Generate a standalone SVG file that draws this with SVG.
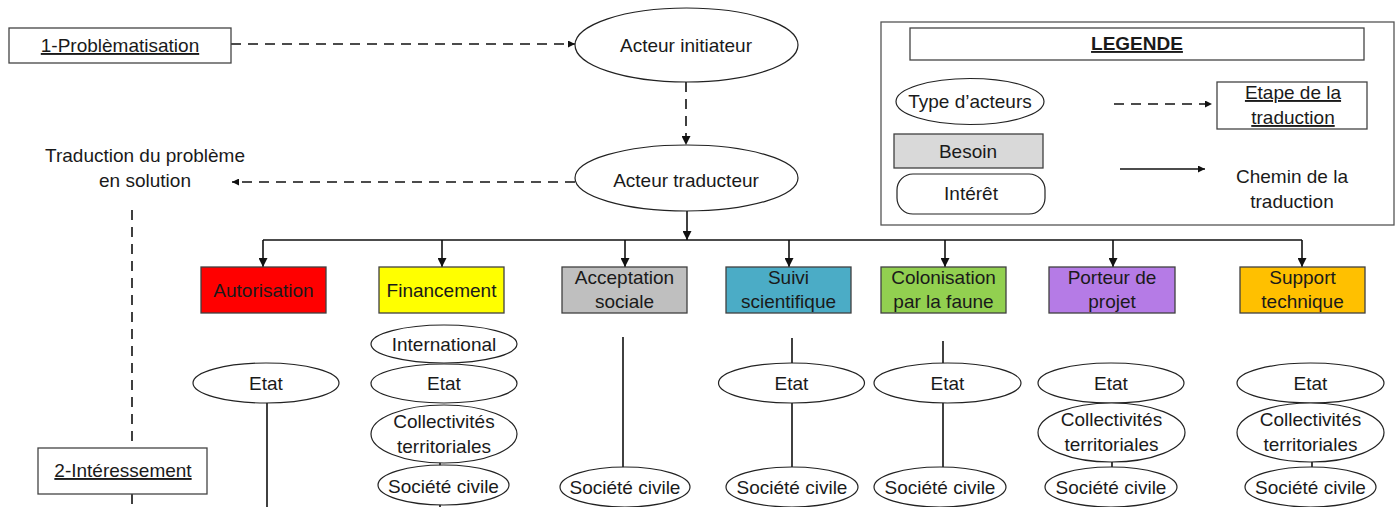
<svg xmlns="http://www.w3.org/2000/svg" width="1399" height="507" viewBox="0 0 1399 507">
<style>
text{font-family:"Liberation Sans",Arial,sans-serif;font-size:19px;fill:#1a1a1a;text-anchor:middle}
.u{text-decoration:underline}
.b{font-weight:bold}
.box{stroke:#404040;stroke-width:1.3}
.ell{fill:#fff;stroke:#222;stroke-width:1.2}
.frame{fill:#fff;stroke:#444;stroke-width:1.3}
.dash{fill:none;stroke:#111;stroke-width:1.6;stroke-dasharray:10 7}
.solid{fill:none;stroke:#111;stroke-width:1.6}
</style>
<defs>
<marker id="ah" viewBox="0 0 10 10" refX="10" refY="5" markerWidth="9" markerHeight="9" markerUnits="userSpaceOnUse" orient="auto">
<path d="M0,0 L10,5 L0,10 z" fill="#111"/>
</marker>
<marker id="ahs" viewBox="0 0 10 10" refX="10" refY="5" markerWidth="7" markerHeight="7" markerUnits="userSpaceOnUse" orient="auto">
<path d="M0,0 L10,5 L0,10 z" fill="#111"/>
</marker>
</defs>
<rect width="1399" height="507" fill="#fff"/>

<g id="connectors">
<line class="dash" x1="231" y1="44" x2="575" y2="44" marker-end="url(#ahs)"/>
<line class="dash" x1="686" y1="82" x2="686" y2="145" marker-end="url(#ah)"/>
<line class="dash" x1="575" y1="182" x2="232" y2="182" marker-end="url(#ahs)"/>
<line class="dash" x1="132" y1="210" x2="132" y2="448"/>
<line class="dash" x1="132" y1="494" x2="132" y2="507"/>
<line class="solid" x1="687" y1="211" x2="687" y2="240" marker-end="url(#ah)"/>
<line class="solid" x1="263" y1="240" x2="1302" y2="240"/>
<line class="solid" x1="263" y1="240" x2="263" y2="267" marker-end="url(#ah)"/>
<line class="solid" x1="442" y1="240" x2="442" y2="267" marker-end="url(#ah)"/>
<line class="solid" x1="625" y1="240" x2="625" y2="267" marker-end="url(#ah)"/>
<line class="solid" x1="789" y1="240" x2="789" y2="267" marker-end="url(#ah)"/>
<line class="solid" x1="945" y1="240" x2="945" y2="267" marker-end="url(#ah)"/>
<line class="solid" x1="1113" y1="240" x2="1113" y2="267" marker-end="url(#ah)"/>
<line class="solid" x1="1302" y1="240" x2="1302" y2="267" marker-end="url(#ah)"/>
<line class="solid" x1="267" y1="403" x2="267" y2="507"/>
<line class="solid" x1="440" y1="462" x2="440" y2="466"/>
<line class="solid" x1="440" y1="504" x2="440" y2="507"/>
<line class="solid" x1="623" y1="337" x2="623" y2="467"/>
<line class="solid" x1="792" y1="338" x2="792" y2="363"/>
<line class="solid" x1="792" y1="403" x2="792" y2="467"/>
<line class="solid" x1="943" y1="341" x2="943" y2="363"/>
<line class="solid" x1="943" y1="403" x2="943" y2="467"/>
<line class="solid" x1="1112" y1="462" x2="1112" y2="467"/>
<line class="solid" x1="1312" y1="462" x2="1312" y2="467"/>
</g>

<g id="n-problematisation">
<rect class="frame" x="9" y="28" width="222" height="35"/>
<text class="u" x="120" y="52">1-Problèmatisation</text>
</g>
<g id="n-acteur-initiateur">
<ellipse class="ell" cx="686.5" cy="45" rx="111.5" ry="37"/>
<text x="686" y="52">Acteur initiateur</text>
</g>
<g id="n-acteur-traducteur">
<ellipse class="ell" cx="686.5" cy="178" rx="111.5" ry="33"/>
<text x="686" y="187">Acteur traducteur</text>
</g>
<g id="n-traduction">
<text x="145" y="162">Traduction du problème</text>
<text x="145" y="187">en solution</text>
</g>
<g id="n-interessement">
<rect class="frame" x="38" y="448" width="169" height="46"/>
<text class="u" x="123" y="477">2-Intéressement</text>
</g>

<g id="legend">
<rect x="881" y="22" width="513" height="203" fill="#fff" stroke="#555" stroke-width="1.3"/>
<rect class="frame" x="910" y="28" width="454" height="32"/>
<text class="b u" x="1137" y="50">LEGENDE</text>
<ellipse class="ell" cx="970" cy="101.5" rx="74" ry="23"/>
<text x="970" y="108">Type d’acteurs</text>
<rect x="894" y="134" width="149" height="34" fill="#d9d9d9" stroke="#404040" stroke-width="1.3"/>
<text x="968" y="158">Besoin</text>
<rect x="897" y="174" width="148" height="40" rx="16" fill="#fff" stroke="#222" stroke-width="1.2"/>
<text x="971" y="200">Intérêt</text>
<line class="dash" x1="1114" y1="104" x2="1212" y2="104" marker-end="url(#ahs)"/>
<rect class="frame" x="1217" y="82" width="150" height="47"/>
<text class="u" x="1293" y="99">Etape de la</text>
<text class="u" x="1293" y="124">traduction</text>
<line class="solid" x1="1120" y1="169" x2="1205" y2="169" marker-end="url(#ahs)"/>
<text x="1292" y="183">Chemin de la</text>
<text x="1292" y="208">traduction</text>
</g>

<g id="n-autorisation">
<rect class="box" x="201" y="267" width="125" height="46" fill="#ff0000"/>
<text x="263.5" y="297">Autorisation</text>
</g>
<g id="n-financement">
<rect class="box" x="379" y="267" width="125" height="46" fill="#ffff00"/>
<text x="441.5" y="297">Financement</text>
</g>
<g id="n-acceptation">
<rect class="box" x="562" y="267" width="125" height="46" fill="#bfbfbf"/>
<text x="624.5" y="284">Acceptation</text>
<text x="624.5" y="308">sociale</text>
</g>
<g id="n-suivi">
<rect class="box" x="726" y="267" width="125" height="46" fill="#4bacc6"/>
<text x="788.5" y="284">Suivi</text>
<text x="788.5" y="308">scientifique</text>
</g>
<g id="n-colonisation">
<rect class="box" x="881" y="267" width="125" height="46" fill="#92d050"/>
<text x="943.5" y="284">Colonisation</text>
<text x="943.5" y="308">par la faune</text>
</g>
<g id="n-porteur">
<rect class="box" x="1049" y="267" width="126" height="46" fill="#b57be6"/>
<text x="1112" y="284">Porteur de</text>
<text x="1112" y="308">projet</text>
</g>
<g id="n-support">
<rect class="box" x="1240" y="267" width="125" height="46" fill="#ffc000"/>
<text x="1302.5" y="284">Support</text>
<text x="1302.5" y="308">technique</text>
</g>

<g id="n-aut-etat">
<ellipse class="ell" cx="266" cy="383" rx="73" ry="20"/>
<text x="266" y="390">Etat</text>
</g>
<g id="n-fin-international">
<ellipse class="ell" cx="444" cy="344" rx="73" ry="19"/>
<text x="444" y="351">International</text>
</g>
<g id="n-fin-etat">
<ellipse class="ell" cx="444" cy="383.5" rx="73" ry="19.5"/>
<text x="444" y="390">Etat</text>
</g>
<g id="n-fin-collectivites">
<ellipse class="ell" cx="444" cy="434" rx="73" ry="29"/>
<text x="444" y="428">Collectivités</text>
<text x="444" y="453">territoriales</text>
</g>
<g id="n-fin-societe">
<ellipse class="ell" cx="443.5" cy="485" rx="65.5" ry="20"/>
<text x="443.5" y="493">Société civile</text>
</g>
<g id="n-acc-societe">
<ellipse class="ell" cx="625" cy="487" rx="65" ry="20"/>
<text x="625" y="494">Société civile</text>
</g>
<g id="n-sui-etat">
<ellipse class="ell" cx="791.5" cy="383" rx="73" ry="20"/>
<text x="791.5" y="390">Etat</text>
</g>
<g id="n-sui-societe">
<ellipse class="ell" cx="792" cy="487" rx="66" ry="20"/>
<text x="792" y="494">Société civile</text>
</g>
<g id="n-col-etat">
<ellipse class="ell" cx="947.5" cy="383" rx="73.5" ry="20"/>
<text x="947.5" y="390">Etat</text>
</g>
<g id="n-col-societe">
<ellipse class="ell" cx="940" cy="487" rx="66" ry="20"/>
<text x="940" y="494">Société civile</text>
</g>
<g id="n-por-etat">
<ellipse class="ell" cx="1111" cy="383" rx="73" ry="20"/>
<text x="1111" y="390">Etat</text>
</g>
<g id="n-por-collectivites">
<ellipse class="ell" cx="1111.5" cy="432.5" rx="73.5" ry="29.5"/>
<text x="1111.5" y="426">Collectivités</text>
<text x="1111.5" y="451">territoriales</text>
</g>
<g id="n-por-societe">
<ellipse class="ell" cx="1111" cy="487" rx="66" ry="20"/>
<text x="1111" y="494">Société civile</text>
</g>
<g id="n-sup-etat">
<ellipse class="ell" cx="1310.5" cy="383" rx="73.5" ry="20"/>
<text x="1310.5" y="390">Etat</text>
</g>
<g id="n-sup-collectivites">
<ellipse class="ell" cx="1310.5" cy="432.5" rx="73.5" ry="29.5"/>
<text x="1310.5" y="426">Collectivités</text>
<text x="1310.5" y="451">territoriales</text>
</g>
<g id="n-sup-societe">
<ellipse class="ell" cx="1310.5" cy="487" rx="65.5" ry="20"/>
<text x="1310.5" y="494">Société civile</text>
</g>
</svg>
